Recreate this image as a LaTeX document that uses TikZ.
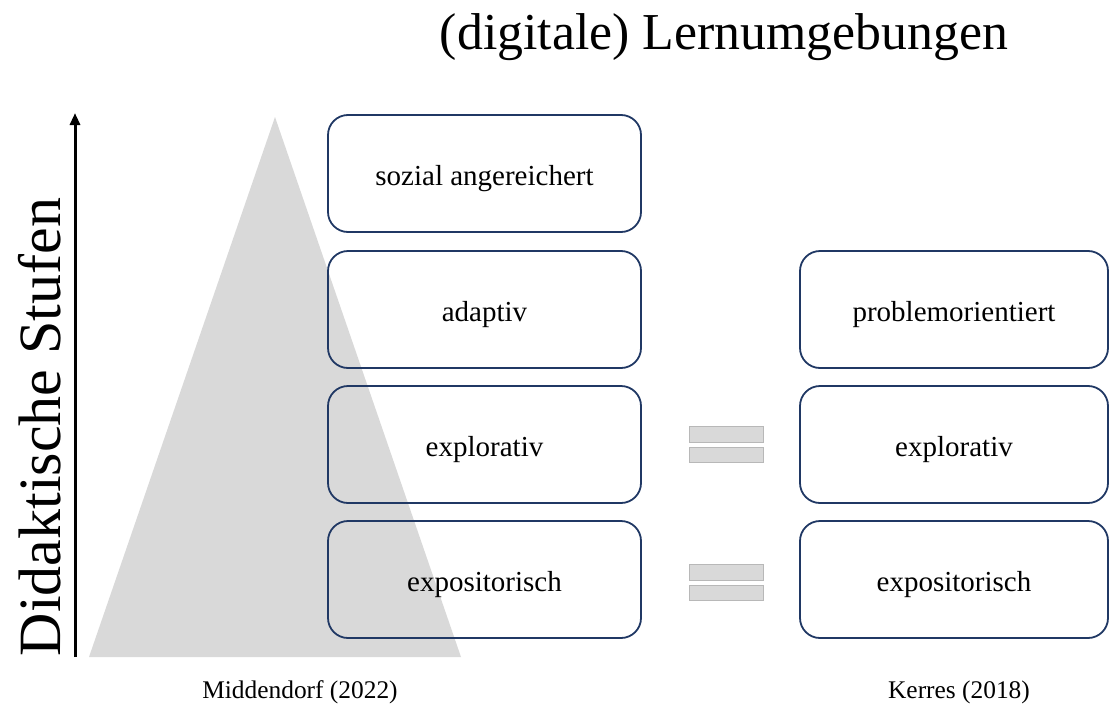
\documentclass[tikz,border=0pt]{standalone}
\usepackage{fontspec}
\setmainfont{Liberation Serif}
\usetikzlibrary{arrows.meta}
\definecolor{boxline}{HTML}{203864}
\definecolor{lightgray}{HTML}{D9D9D9}
\tikzset{
  stage/.style={draw=boxline, line width=1.8pt, rounded corners=20pt,
    minimum width=313pt, minimum height=117pt, inner sep=0pt,
    text height=25pt, text depth=2pt,
    font=\fontsize{29}{34}\selectfont},
  stageR/.style={stage, minimum width=308pt},
  eqbar/.style={fill=lightgray, draw=lightgray!85!black, line width=0.4pt},
  caption/.style={anchor=base, font=\fontsize{25.4}{30}\selectfont},
}
\begin{document}
\begin{tikzpicture}[x=1pt,y=-1pt]
  \useasboundingbox (0,0) rectangle (1110,709);
  % pyramid behind the stages
  \fill[lightgray] (89,657) -- (275,117) -- (461,657) -- cycle;
  % axis arrow
  \coordinate (axisbot) at (75,657);
  \coordinate (axistop) at (75,113);
  \draw[line width=3pt, -{Triangle[length=12pt,width=10pt]}] (axisbot) -- (axistop);
  \node[rotate=90, font=\fontsize{60}{70}\selectfont] (axis) at (40,427) {Didaktische Stufen};
  % title
  \node[anchor=base, font=\fontsize{51.8}{60}\selectfont] (title) at (724,50) {(digitale) Lernumgebungen};
  % left column
  \node[stage] (soz) at (484.5,173.5) {sozial angereichert};
  \node[stage] (ada) at (484.5,309.5) {adaptiv};
  \node[stage] (expL) at (484.5,444.5) {explorativ};
  \node[stage] (posL) at (484.5,579.5) {expositorisch};
  % right column
  \node[stageR] (prob) at (954,309.5) {problemorientiert};
  \node[stageR] (expR) at (954,444.5) {explorativ};
  \node[stageR] (posR) at (954,579.5) {expositorisch};
  % equality marks
  \fill[eqbar] (689,426) rectangle (763,442);
  \fill[eqbar] (689,447) rectangle (763,462);
  \fill[eqbar] (689,564) rectangle (763,580);
  \fill[eqbar] (689,585) rectangle (763,600);
  % sources
  \node[caption] (srcL) at (300,698) {Middendorf (2022)};
  \node[caption] (srcR) at (959,698) {Kerres (2018)};
\end{tikzpicture}
\end{document}
